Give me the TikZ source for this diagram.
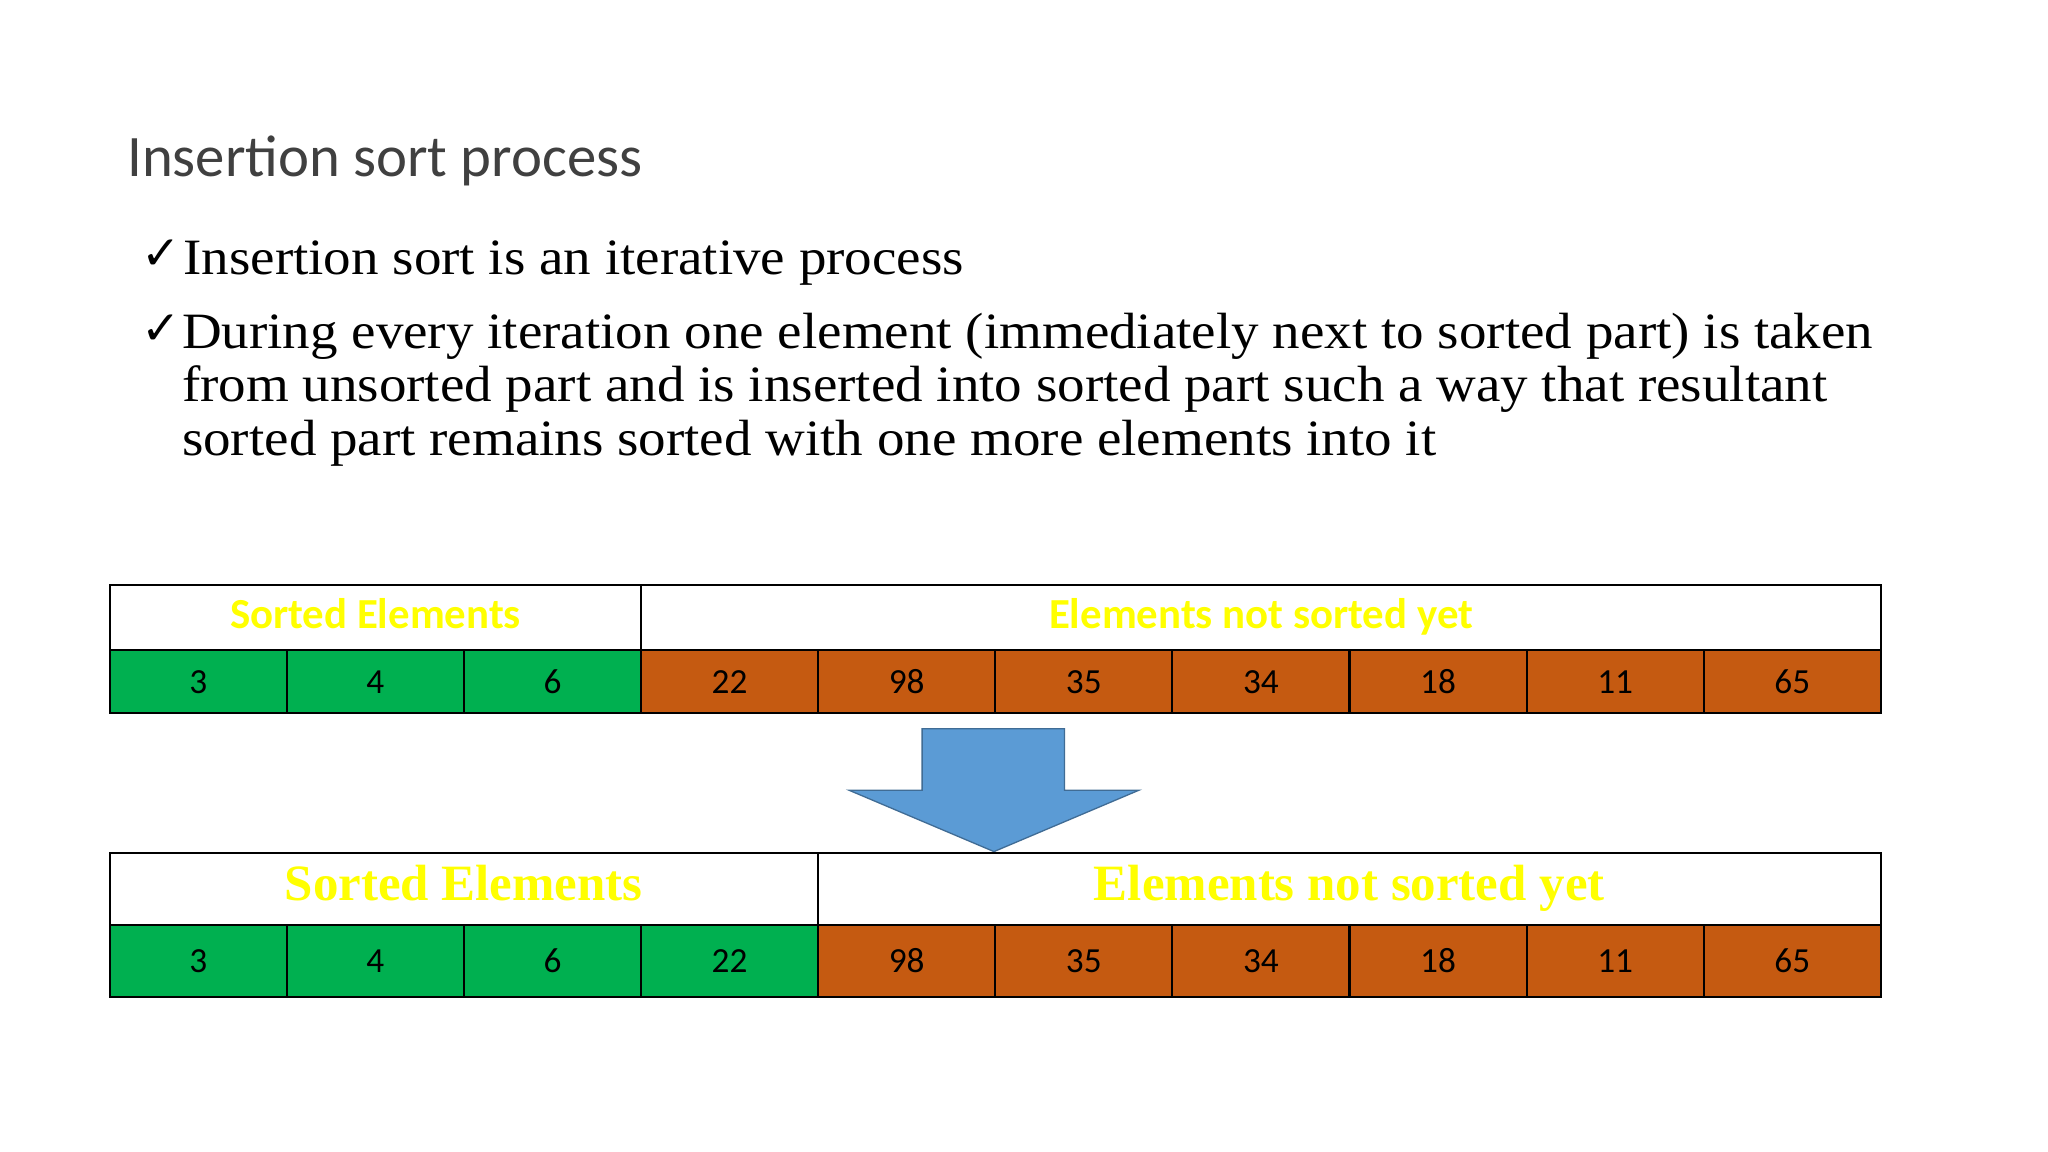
\documentclass[tikz,border=0pt]{standalone}
\usepackage{fontspec}
\setmainfont{Liberation Serif}
\newfontfamily\carl{Carlito}
\newfontfamily\dejavu{DejaVu Sans}
\newfontfamily\wideserif[FakeStretch=1.08]{Liberation Serif}
\definecolor{cgreen}{HTML}{00B050}
\definecolor{corange}{HTML}{C55A11}
\definecolor{cblue}{HTML}{5B9BD5}
\definecolor{cyel}{HTML}{FFFF00}
\begin{document}
\begin{tikzpicture}[x=0.5pt,y=-0.5pt,
  cell/.style={draw=black,line width=0.8pt,inner sep=0,minimum width=67.8pt,font=\carl\fontsize{13.5}{13.5}\selectfont,text height=9pt,text depth=0pt},
  hdr/.style={draw=black,line width=0.8pt,inner sep=0,fill=white,text=cyel,text height=11pt,text depth=3pt},
  btxt/.style={anchor=base west,inner sep=0,font=\wideserif\fontsize{19.5}{21.5}\selectfont,align=left}]
\useasboundingbox (0,0) rectangle (1568,882);
\fill[white] (0,0) rectangle (1568,882);
\node[anchor=base west,inner sep=0,font=\carl\fontsize{22.5}{22.5}\selectfont\color{black!75}] (title) at (97,135) {Insertion sort process};
\node[anchor=base west,inner sep=0,font=\dejavu\fontsize{18}{18}\selectfont] (c1) at (108,206) {✓};
\node[btxt] (b1) at (140,210) {Insertion sort is an iterative process};
\node[anchor=base west,inner sep=0,font=\dejavu\fontsize{18}{18}\selectfont] (c2) at (108,264) {✓};
\node[btxt,anchor=north west] (b2) at (139,239) {During every iteration one element (immediately next to sorted part) is taken\\[-1pt]
from unsorted part and is inserted into sorted part such a way that resultant\\[-1pt]
sorted part remains sorted with one more elements into it};
% top table
\node[hdr,minimum width=203.5pt,minimum height=25pt,font=\carl\bfseries\fontsize{16.4}{16.4}\selectfont] (th1) at (287.5,473) {Sorted Elements};
\node[hdr,minimum width=474.5pt,minimum height=25pt,font=\carl\bfseries\fontsize{16.4}{16.4}\selectfont] (th2) at (965.5,473) {Elements not sorted yet};
\foreach \v [count=\i] in {3,4,6,22,98,35,34,18,11,65}{
  \pgfmathsetmacro\cx{84+135.6*(\i-0.5)}
  \ifnum\i<4 \def\fc{cgreen}\else\def\fc{corange}\fi
  \node[cell,fill=\fc,minimum height=24pt] (t\i) at (\cx,522) {\v};
}
% arrow
\node[inner sep=0] (apex) at (761,652) {};
\filldraw[fill=cblue,draw=cblue!70!black,line width=0.5pt] (706,558) -- (815,558) -- (815,605) -- (872,605) -- (apex.center) -- (650,605) -- (706,605) -- cycle;
% bottom table
\node[hdr,minimum width=271pt,minimum height=27.5pt,font=\bfseries\fontsize{19.5}{19.5}\selectfont,text height=13pt,text depth=4pt] (bh1) at (355,680.5) {Sorted Elements};
\node[hdr,minimum width=407pt,minimum height=27.5pt,font=\bfseries\fontsize{19.5}{19.5}\selectfont,text height=13pt,text depth=4pt] (bh2) at (1033,680.5) {Elements not sorted yet};
\foreach \v [count=\i] in {3,4,6,22,98,35,34,18,11,65}{
  \pgfmathsetmacro\cx{84+135.6*(\i-0.5)}
  \ifnum\i<5 \def\fc{cgreen}\else\def\fc{corange}\fi
  \node[cell,fill=\fc,minimum height=27.5pt] (u\i) at (\cx,735.5) {\v};
}
\end{tikzpicture}
\end{document}
